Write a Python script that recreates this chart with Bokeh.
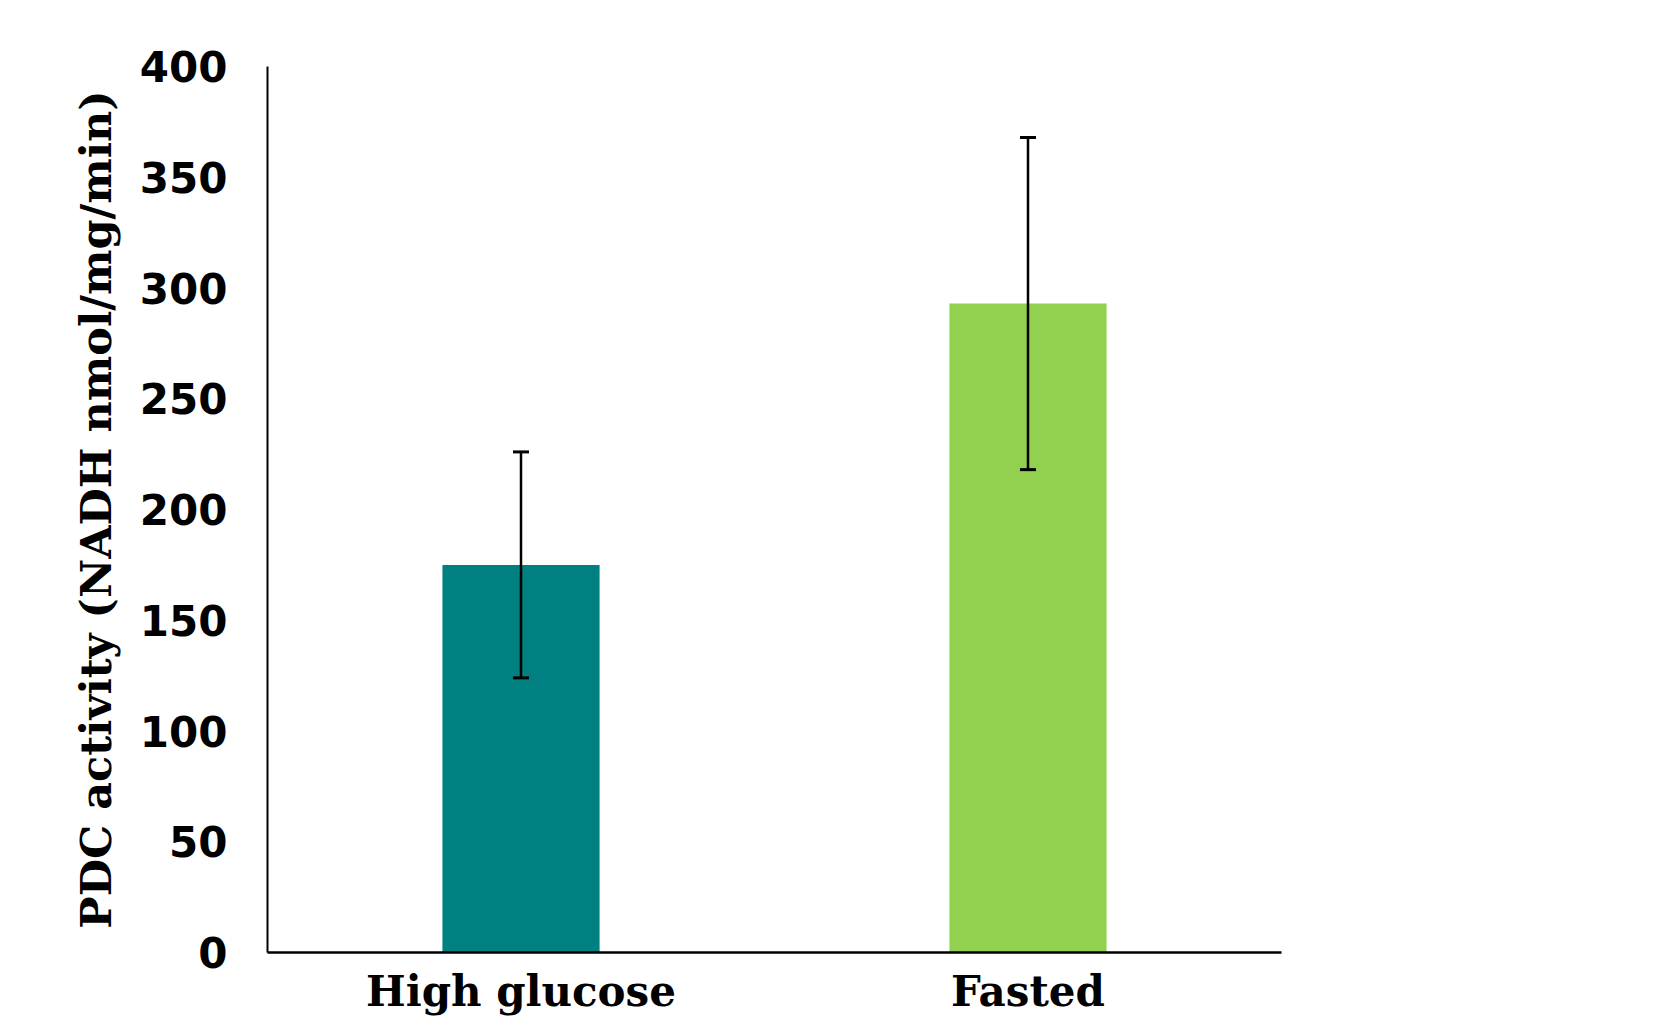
from bokeh.plotting import figure
from bokeh.models import ColumnDataSource, Range1d, FactorRange, Whisker, TeeHead
from bokeh.embed import file_html
from bokeh.resources import INLINE

categories = ["High glucose", "Fasted"]
values = [175, 293]
errors = [51, 75]
colors = ["#008080", "#92D050"]
y_ticks = [0, 50, 100, 150, 200, 250, 300, 350, 400]

src = ColumnDataSource(dict(
    cat=categories,
    val=values,
    lower=[v - e for v, e in zip(values, errors)],
    upper=[v + e for v, e in zip(values, errors)],
    color=colors,
))

p = figure(
    x_range=FactorRange(*categories, range_padding=0),
    y_range=Range1d(0, 400),
    width=1644, height=1018,
    output_backend="svg", toolbar_location=None,
    min_border_left=267, min_border_right=363,
    min_border_top=66, min_border_bottom=60,
)
p.outline_line_color = None
p.xgrid.grid_line_color = None
p.ygrid.grid_line_color = None
p.background_fill_color = "white"
p.border_fill_color = "white"

p.vbar(x="cat", top="val", width=0.31, color="color", line_color=None, source=src)

w = Whisker(base="cat", lower="lower", upper="upper", source=src,
            line_color="black", line_width=2.5, level="overlay",
            upper_head=TeeHead(size=16, line_width=3, line_color="black"),
            lower_head=TeeHead(size=16, line_width=3, line_color="black"))
p.add_layout(w)

p.yaxis.ticker = y_ticks
p.yaxis.axis_line_width = 2
p.xaxis.axis_line_width = 2.5
for ax in (p.xaxis, p.yaxis):
    ax.major_tick_line_color = None
    ax.minor_tick_line_color = None
    ax.axis_line_color = "black"

p.yaxis.major_label_text_font = "DejaVu Sans"
p.yaxis.major_label_text_font_style = "bold"
p.yaxis.major_label_text_font_size = "42px"
p.yaxis.major_label_text_color = "black"
p.yaxis.major_label_standoff = 34

p.yaxis.axis_label = "PDC activity (NADH nmol/mg/min)"
p.yaxis.axis_label_text_font = "DejaVu Serif"
p.yaxis.axis_label_text_font_style = "bold"
p.yaxis.axis_label_text_font_size = "43px"
p.yaxis.axis_label_text_color = "black"
p.yaxis.axis_label_standoff = 16

p.xaxis.major_label_text_font = "DejaVu Serif"
p.xaxis.major_label_text_font_style = "bold"
p.xaxis.major_label_text_font_size = "42px"
p.xaxis.major_label_text_color = "black"
p.xaxis.major_label_standoff = 8

open("out.html", "w").write(file_html(p, INLINE))
